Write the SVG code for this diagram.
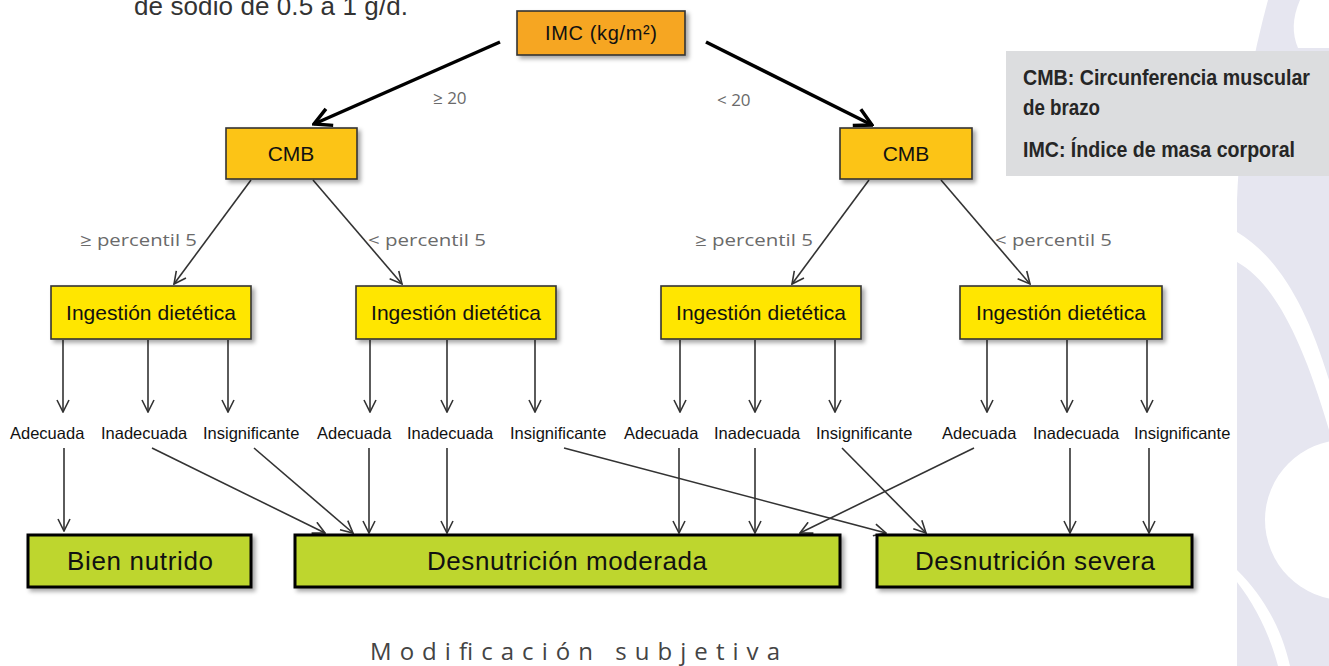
<svg xmlns="http://www.w3.org/2000/svg" width="1329" height="666" viewBox="0 0 1329 666">
<style>
.box{stroke:#333;stroke-width:1.6}
.imc{fill:#f6a622}
.cmb{fill:#fcc414}
.ing{fill:#ffe600}
.res{fill:#bed62f;stroke:#000;stroke-width:3}
.t{font-family:"Liberation Sans",Arial,sans-serif;fill:#111;text-anchor:middle}
.lab{font-family:"Liberation Sans",Arial,sans-serif;font-size:16.5px;fill:#111}
.cond{font-family:"Open Sans","Liberation Sans",sans-serif;font-size:17px;fill:#6a6a6a}
.leg{font-family:"Liberation Sans",Arial,sans-serif;font-weight:bold;font-size:22px;fill:#262626}
.c{fill:none;stroke:#333;stroke-width:1.6}
.cb{fill:none;stroke:#000;stroke-width:3.5}
</style>
<defs>
<filter id="sh" x="-10%" y="-20%" width="130%" height="150%">
<feDropShadow dx="3" dy="3" stdDeviation="2" flood-color="#000" flood-opacity="0.35"/>
</filter>
<marker id="ah" viewBox="0 0 14 14" refX="13" refY="7" markerWidth="14" markerHeight="14" markerUnits="userSpaceOnUse" orient="auto">
<path d="M1,1 L13,7 L1,13" fill="none" stroke="#333" stroke-width="1.6"/>
</marker>
<marker id="ahb" viewBox="0 0 22 22" refX="20" refY="11" markerWidth="22" markerHeight="22" markerUnits="userSpaceOnUse" orient="auto">
<path d="M3,2 L20,11 L3,20" fill="none" stroke="#000" stroke-width="3.5"/>
</marker>
</defs>
<rect width="1329" height="666" fill="#fff"/>
<g id="background">
<path d="M1268,0 C1252,60 1240,120 1237,200 L1237,666 L1329,666 L1329,0 Z" fill="#e6e6f0"/>
<path d="M1300,0 C1292,18 1292,34 1298,48 L1329,48 L1329,0 Z" fill="#fff"/>
<path d="M1237,232 C1275,255 1305,300 1329,380 L1329,430 C1300,330 1270,280 1237,262 Z" fill="#fff"/>
<circle cx="1345" cy="520" r="80" fill="#fff"/>
<path d="M1237,582 C1255,605 1270,635 1278,666 L1290,666 C1282,630 1265,598 1237,570 Z" fill="#fff"/>
</g>
<text x="134" y="15" font-family="Liberation Sans, Arial, sans-serif" font-size="26" fill="#333" textLength="274">de sodio de 0.5 a 1 g/d.</text>
<g id="legend">
<rect x="1006" y="51" width="323" height="125" fill="#dcdddf"/>
<text class="leg" x="1023" y="85" textLength="287" lengthAdjust="spacingAndGlyphs">CMB: Circunferencia muscular</text>
<text class="leg" x="1023" y="115" textLength="77" lengthAdjust="spacingAndGlyphs">de brazo</text>
<text class="leg" x="1023" y="157" textLength="272" lengthAdjust="spacingAndGlyphs">IMC: Índice de masa corporal</text>
</g>
<g id="connectors">
<line class="cb" x1="500" y1="42" x2="314" y2="124" marker-end="url(#ahb)"/>
<line class="cb" x1="706" y1="42" x2="872" y2="125" marker-end="url(#ahb)"/>
<line class="c" x1="251" y1="180" x2="174" y2="284" marker-end="url(#ah)"/>
<line class="c" x1="313" y1="180" x2="402" y2="284" marker-end="url(#ah)"/>
<line class="c" x1="869" y1="180" x2="792" y2="284" marker-end="url(#ah)"/>
<line class="c" x1="941" y1="180" x2="1030" y2="284" marker-end="url(#ah)"/>
<line class="c" x1="63" y1="340" x2="63" y2="412" marker-end="url(#ah)"/>
<line class="c" x1="148" y1="340" x2="148" y2="412" marker-end="url(#ah)"/>
<line class="c" x1="228" y1="340" x2="228" y2="412" marker-end="url(#ah)"/>
<line class="c" x1="370" y1="340" x2="370" y2="412" marker-end="url(#ah)"/>
<line class="c" x1="447" y1="340" x2="447" y2="412" marker-end="url(#ah)"/>
<line class="c" x1="535" y1="340" x2="535" y2="412" marker-end="url(#ah)"/>
<line class="c" x1="680" y1="340" x2="680" y2="412" marker-end="url(#ah)"/>
<line class="c" x1="755" y1="340" x2="755" y2="412" marker-end="url(#ah)"/>
<line class="c" x1="835" y1="340" x2="835" y2="412" marker-end="url(#ah)"/>
<line class="c" x1="987" y1="340" x2="987" y2="412" marker-end="url(#ah)"/>
<line class="c" x1="1067" y1="340" x2="1067" y2="412" marker-end="url(#ah)"/>
<line class="c" x1="1147" y1="340" x2="1147" y2="412" marker-end="url(#ah)"/>
<line class="c" x1="64" y1="448" x2="64" y2="531" marker-end="url(#ah)"/>
<line class="c" x1="152" y1="448" x2="325" y2="533" marker-end="url(#ah)"/>
<line class="c" x1="254" y1="448" x2="353" y2="533" marker-end="url(#ah)"/>
<line class="c" x1="369" y1="448" x2="369" y2="533" marker-end="url(#ah)"/>
<line class="c" x1="447" y1="448" x2="447" y2="533" marker-end="url(#ah)"/>
<line class="c" x1="564" y1="448" x2="886" y2="533" marker-end="url(#ah)"/>
<line class="c" x1="679" y1="448" x2="679" y2="533" marker-end="url(#ah)"/>
<line class="c" x1="755" y1="448" x2="755" y2="533" marker-end="url(#ah)"/>
<line class="c" x1="842" y1="448" x2="926" y2="533" marker-end="url(#ah)"/>
<line class="c" x1="974" y1="448" x2="800" y2="533" marker-end="url(#ah)"/>
<line class="c" x1="1070" y1="448" x2="1070" y2="533" marker-end="url(#ah)"/>
<line class="c" x1="1149" y1="448" x2="1149" y2="533" marker-end="url(#ah)"/>
</g>
<g id="edge-labels">
<text class="cond" x="433" y="104">≥ 20</text>
<text class="cond" x="717" y="106">&lt; 20</text>
<text class="cond" x="80" y="246" textLength="117" lengthAdjust="spacingAndGlyphs">≥ percentil 5</text>
<text class="cond" x="368" y="246" textLength="118" lengthAdjust="spacingAndGlyphs">&lt; percentil 5</text>
<text class="cond" x="695" y="246" textLength="118" lengthAdjust="spacingAndGlyphs">≥ percentil 5</text>
<text class="cond" x="995" y="246" textLength="117" lengthAdjust="spacingAndGlyphs">&lt; percentil 5</text>
</g>
<g id="imc"><rect class="box imc" x="517" y="11" width="168" height="44" filter="url(#sh)"/><text class="t" x="601" y="40" font-size="20" textLength="112">IMC (kg/m²)</text></g>
<g id="cmb1"><rect class="box cmb" x="226" y="128" width="131" height="51" filter="url(#sh)"/><text class="t" x="291" y="161" font-size="21">CMB</text></g>
<g id="cmb2"><rect class="box cmb" x="840" y="128" width="132" height="51" filter="url(#sh)"/><text class="t" x="906" y="161" font-size="21">CMB</text></g>
<g id="ing1"><rect class="box ing" x="51" y="286" width="200" height="53" filter="url(#sh)"/><text class="t" x="151" y="320" font-size="21" textLength="170">Ingestión dietética</text></g>
<g id="ing2"><rect class="box ing" x="356" y="286" width="200" height="53" filter="url(#sh)"/><text class="t" x="456" y="320" font-size="21" textLength="170">Ingestión dietética</text></g>
<g id="ing3"><rect class="box ing" x="661" y="286" width="200" height="53" filter="url(#sh)"/><text class="t" x="761" y="320" font-size="21" textLength="170">Ingestión dietética</text></g>
<g id="ing4"><rect class="box ing" x="960" y="286" width="202" height="53" filter="url(#sh)"/><text class="t" x="1061" y="320" font-size="21" textLength="170">Ingestión dietética</text></g>
<g id="labels">
<text class="lab" x="10" y="439">Adecuada</text>
<text class="lab" x="101" y="439">Inadecuada</text>
<text class="lab" x="203" y="439">Insignificante</text>
<text class="lab" x="317" y="439">Adecuada</text>
<text class="lab" x="407" y="439">Inadecuada</text>
<text class="lab" x="510" y="439">Insignificante</text>
<text class="lab" x="624" y="439">Adecuada</text>
<text class="lab" x="714" y="439">Inadecuada</text>
<text class="lab" x="816" y="439">Insignificante</text>
<text class="lab" x="942" y="439">Adecuada</text>
<text class="lab" x="1033" y="439">Inadecuada</text>
<text class="lab" x="1134" y="439">Insignificante</text>
</g>
<g id="bien"><rect class="res" x="28" y="535" width="223" height="52" filter="url(#sh)"/><text class="t" x="140" y="570" font-size="26" textLength="146">Bien nutrido</text></g>
<g id="moderada"><rect class="res" x="295" y="535" width="545" height="52" filter="url(#sh)"/><text class="t" x="567" y="570" font-size="26" textLength="280">Desnutrición moderada</text></g>
<g id="severa"><rect class="res" x="877" y="535" width="315" height="52" filter="url(#sh)"/><text class="t" x="1035" y="570" font-size="26" textLength="240">Desnutrición severa</text></g>
<text x="370" y="660" font-family="Open Sans, Liberation Sans, sans-serif" font-size="24" fill="#444" textLength="410" lengthAdjust="spacing">Modificación subjetiva</text>
</svg>
